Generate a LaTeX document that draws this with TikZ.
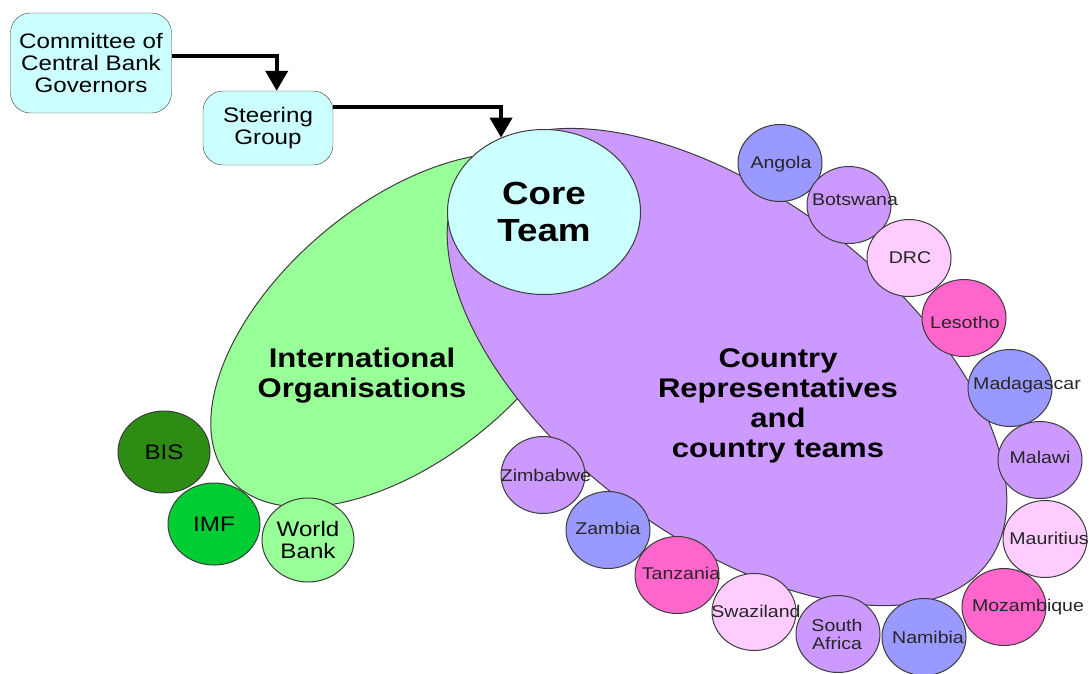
\documentclass[tikz,border=0pt]{standalone}
\usepackage{fontspec}
\setmainfont{Liberation Sans}[FakeStretch=1.15]
\usetikzlibrary{shapes.geometric, arrows.meta}

\definecolor{boxcyan}{RGB}{204,255,255}
\definecolor{orggreen}{RGB}{153,255,153}
\definecolor{bisgreen}{RGB}{45,140,20}
\definecolor{imfgreen}{RGB}{0,204,51}
\definecolor{reppurple}{RGB}{204,153,255}
\definecolor{landblue}{RGB}{153,153,255}
\definecolor{landlilac}{RGB}{204,153,255}
\definecolor{landpink}{RGB}{255,204,255}
\definecolor{landrose}{RGB}{255,102,204}
\definecolor{rim}{RGB}{60,60,60}

% one country: name, centre, fill, label position, label
\newcommand{\landball}[5]{%
  \node[land, fill=#3] (#1) at (#2) {};
  \node[landtext] (#1 label) at (#4) {#5};
}

\begin{document}
\begin{tikzpicture}[x=1pt, y=-1pt, >=stealth,
    board/.style={draw=rim, fill=boxcyan, rounded corners=20pt, align=center,
      inner sep=0pt, font=\fontsize{21}{22}\selectfont},
    org/.style={ellipse, draw=rim, line width=1pt, minimum width=92pt,
      minimum height=82pt, inner sep=0pt, align=center,
      font=\fontsize{21}{22}\selectfont},
    land/.style={ellipse, draw=rim, line width=1pt, minimum width=84pt,
      minimum height=77pt, inner sep=0pt},
    landtext/.style={align=center, inner sep=0pt, text=black!85,
      font=\fontsize{17}{18}\selectfont},
    bigtext/.style={align=center, font=\bfseries\fontsize{27}{30}\selectfont},
    flow/.style={-{Triangle[width=22pt,length=20pt]}, line width=4pt}]
  \useasboundingbox (0,0) rectangle (1089,673);

  % Cajas de gobierno
  \node[board, minimum width=161pt, minimum height=100pt] (ccbg) at (91,63)
    {Committee of\\Central Bank\\Governors};
  \node[board, minimum width=130pt, minimum height=74pt] (steer) at (268,128)
    {Steering\\Group};

  % Grandes elipses
  \filldraw[fill=orggreen, draw=rim, line width=1pt, rotate around={40:(405,330)}]
    (405,330) ellipse [x radius=230pt, y radius=127pt];
  \filldraw[fill=reppurple, draw=rim, line width=1pt, rotate around={-37:(727,367)}]
    (727,367) ellipse [x radius=326pt, y radius=170pt];

  \node[ellipse, draw=rim, fill=boxcyan, line width=1pt, minimum width=193pt,
    minimum height=165pt, inner sep=0pt, align=center,
    font=\bfseries\fontsize{32}{37}\selectfont] (core) at (544,212) {Core\\Team};

  \node[bigtext] (orglabel) at (362,376) {International\\Organisations};
  \node[bigtext] (replabel) at (778,406)
    {Country\\Representatives\\and\\country teams};

  % Flechas
  \draw[flow] ([yshift=7.5pt]ccbg.east) -| ([xshift=8.7pt]steer.north);
  \draw[flow] ([yshift=21pt]steer.east) -| (core.120.6);

  % Organismos
  \node[org, fill=bisgreen] (bis) at (164,452) {BIS};
  \node[org, fill=imfgreen] (imf) at (214,524) {IMF};
  \node[org, fill=orggreen, minimum height=84pt] (wb) at (308,540) {World\\Bank};

  % Paises
  \landball{angola}{780,163}{landblue}{781,164}{Angola}
  \landball{botswana}{849,205}{landlilac}{855,200}{Botswana}
  \landball{drc}{909,258}{landpink}{910,258}{DRC}
  \landball{lesotho}{964,318}{landrose}{965,322}{Lesotho}
  \landball{madagascar}{1010,388}{landblue}{1027,385}{Madagascar}
  \landball{malawi}{1040,460}{landlilac}{1040,457}{Malawi}
  \landball{mauritius}{1045,539}{landpink}{1049,538}{Mauritius}
  \landball{mozambique}{1004,607}{landrose}{1028,607}{Mozambique}
  \landball{namibia}{924,637}{landblue}{928,637}{Namibia}
  \landball{southafrica}{838,634}{landlilac}{837,634}{South\\Africa}
  \landball{swaziland}{754,612}{landpink}{756,611}{Swaziland}
  \landball{tanzania}{677,575}{landrose}{681,573}{Tanzania}
  \landball{zambia}{608,530}{landblue}{608,528}{Zambia}
  \landball{zimbabwe}{543,475}{landlilac}{546,475}{Zimbabwe}
\end{tikzpicture}
\end{document}
